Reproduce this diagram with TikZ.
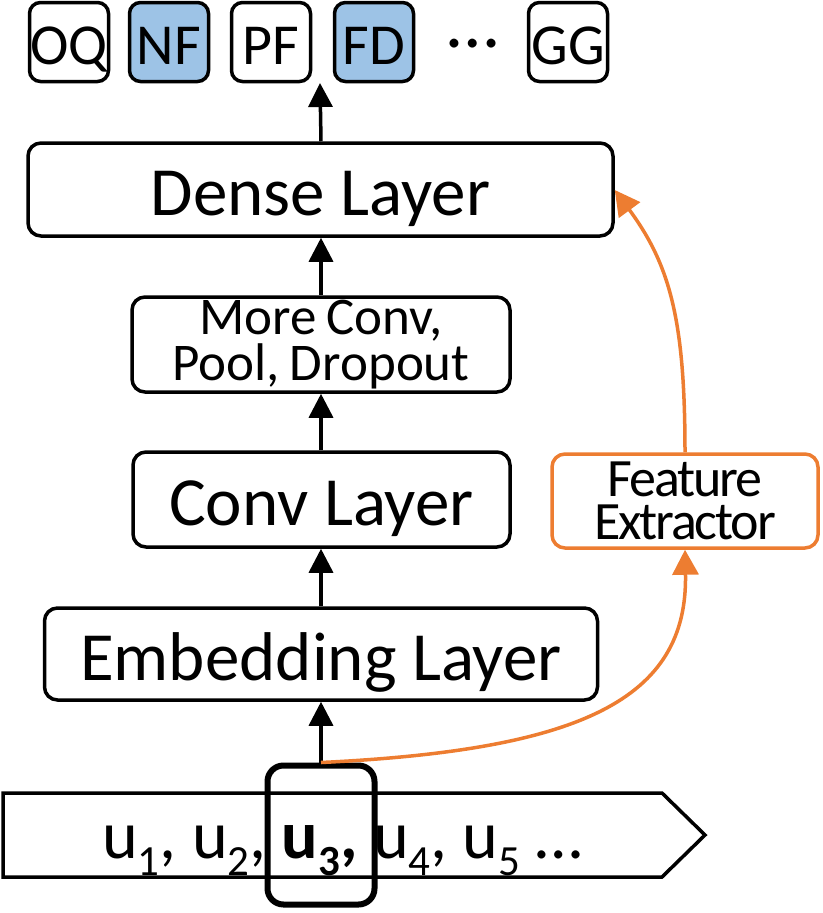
\documentclass[tikz,border=0pt]{standalone}
\usepackage{fontspec}
\setmainfont{Carlito}
\usetikzlibrary{arrows.meta}
\definecolor{blu}{HTML}{9DC3E6}
\definecolor{org}{HTML}{ED7D31}
\newcommand\sbs[1]{\raisebox{-17pt}{\fontsize{43}{43}\selectfont #1}}
\begin{document}
\begin{tikzpicture}[x=1pt,y=-1pt,
  box/.style={draw=black,line width=3.5pt,rounded corners=13pt,inner sep=0pt,align=center},
  layer/.style={box,font=\fontsize{69}{69}\selectfont,text height=52pt,text depth=0pt},
  lbl/.style={box,rounded corners=11pt,minimum width=79pt,minimum height=79pt,font=\fontsize{58}{58}\selectfont,text height=44pt,text depth=0pt},
  arr/.style={line width=3.5pt,-{Triangle[length=24pt,width=24pt]}},
  oarr/.style={draw=org,line width=3.5pt,-{Triangle[length=25pt,width=26pt]}}]
\useasboundingbox (0,0) rectangle (822,913);
% top labels
\node[lbl] (oq) at (69,42) {OQ};
\node[lbl,fill=blu] (nf) at (169,42) {NF};
\node[lbl] (pf) at (271,42) {PF};
\node[lbl,fill=blu] (fd) at (374,42) {FD};
\node[font=\fontsize{74}{74}\selectfont,anchor=base,inner sep=0pt,text height=10pt,text depth=0pt] (dots) at (473,47) {…};
\node[lbl] (gg) at (568,42) {GG};
\coordinate (top) at (320,83);
% layers
\node[layer,minimum width=585pt,minimum height=93pt] (dense) at (320.5,189.5) {Dense Layer};
\node[box,minimum width=378pt,minimum height=95pt,font=\fontsize{53}{46}\selectfont] (mc) at (321,344.5) {More\hspace{-2pt} Conv,\\[0pt]Pool,\hspace{-2pt} Dropout};
\node[layer,minimum width=377pt,minimum height=95pt] (conv) at (321.5,499.5) {Conv Layer};
\node[layer,minimum width=553pt,minimum height=92pt] (emb) at (321,654) {Embedding Layer};
\node[box,draw=org,minimum width=266pt,minimum height=94pt,font=\fontsize{54}{43}\selectfont\addfontfeatures{LetterSpace=-4}] (fe) at (685,501) {Feature\\[0pt]Extractor};
% input
\draw[line width=3.5pt,line join=miter] (3,793) -- (662,793) -- (705,835) -- (662,877) -- (3,877) -- cycle;
\node[anchor=base west,inner sep=0pt,font=\fontsize{68}{68}\selectfont] (seq) at (102,858) {u\sbs{1}, u\sbs{2}, \textbf{u\sbs{3},} u\sbs{4}, u\sbs{5} …};
\node[draw=black,line width=6pt,rounded corners=16pt,minimum width=107pt,minimum height=139pt,inner sep=0pt] (u3) at (321,835) {};
% arrows
\draw[arr] (u3.north) -- (u3.north |- emb.south);
\draw[arr] (emb.north -| u3.north) -- (conv.south -| u3.north);
\draw[arr] (conv.north -| u3.north) -- (mc.south -| u3.north);
\draw[arr] (mc.north -| u3.north) -- (dense.south -| u3.north);
\draw[arr] (dense.north -| u3.north) -- (top);
\draw[oarr] (u3.north) .. controls (580,750) and (688,700) .. (fe.south);
\draw[oarr] (fe.north) .. controls (685,320) and (670,265) .. (dense.east |- 0,190);
\end{tikzpicture}
\end{document}
